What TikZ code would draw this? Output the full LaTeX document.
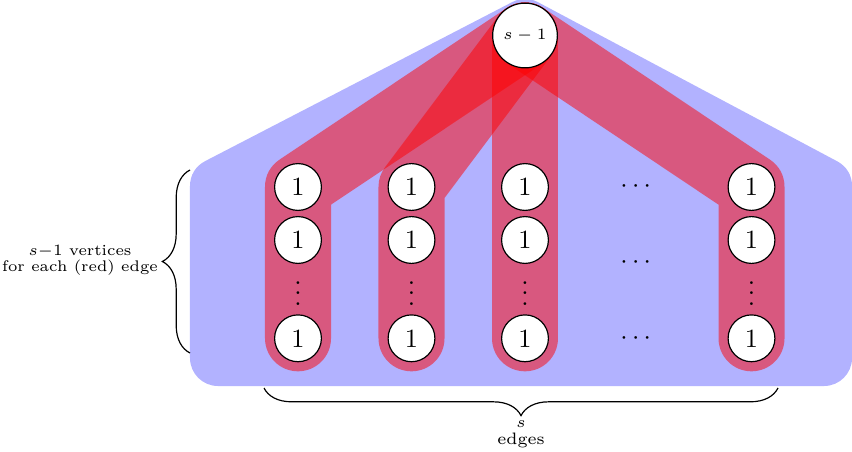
\documentclass[tikz,border=0pt]{standalone}
\usetikzlibrary{decorations.pathreplacing}
\pgfdeclarelayer{hulllayer}
\pgfdeclarelayer{edgelayer}
\pgfsetlayers{hulllayer,edgelayer,main}
\begin{document}
\begin{tikzpicture}[x=0.3802pt,y=-0.3802pt,
  vtx/.style={circle,draw,fill=white,line width=0.45pt,inner sep=0pt,minimum size=17.8pt,font=\normalsize},
  topv/.style={circle,draw,fill=white,line width=0.45pt,inner sep=0pt,minimum size=24.6pt,font=\fontsize{6.3pt}{6.1pt}\selectfont},
  vdt/.style={inner sep=0.3pt},
  hedge/.style={draw=red,draw opacity=0.5,line width=25.1pt,line cap=round,line join=round},
  hullfill/.style={fill=blue!30,draw=blue!30,line width=21.3pt,line join=round},
  brc/.style={draw,line width=0.45pt,decorate,decoration={brace,amplitude=10.5pt}},
  lbl/.style={font=\fontsize{6.3pt}{6.1pt}\selectfont,align=center,inner sep=1pt}]
\useasboundingbox (0,0) rectangle (852,451);
% vertices
\node[topv] (t) at (525,35.5) {$s - 1$};
\foreach \n/\x in {A/298,B/411.5,C/525,D/751.5}{
  \node[vtx] (\n1) at (\x,187) {1};
  \node[vtx] (\n2) at (\x,240) {1};
  \node[vdt] (\n v) at (\x,293.2) {\raisebox{-4.53pt}[4.53pt][4.53pt]{$\vdots$}};
  \node[vtx] (\n3) at (\x,338.3) {1};
}
\node (d1) at (635.7,187) {$\cdots$};
\node (d2) at (635.7,262.3) {$\cdots$};
\node (d3) at (635.7,338.3) {$\cdots$};
% hyperedges
\begin{pgfonlayer}{edgelayer}
\foreach \n in {A,B,C,D}
  \draw[hedge] (\n3.center) -- (\n1.center) -- (t.center);
\end{pgfonlayer}
% hull
\coordinate (h1) at (218,358);
\coordinate (h2) at (824,358);
\coordinate (h3) at (824,186);
\coordinate (h4) at (525,27);
\coordinate (h5) at (218,186);
\begin{pgfonlayer}{hulllayer}
\path[hullfill] (h1) -- (h2) -- (h3) -- (h4) -- (h5) -- cycle;
\end{pgfonlayer}
% braces
\coordinate (lb1) at (190,353);
\coordinate (lb2) at (190,170);
\draw[brc] (lb1) -- (lb2);
\node[lbl,anchor=east,font=\fontsize{5.85pt}{6.1pt}\selectfont] (ll) at (161,260) {$s{-}1$ vertices\\for each (red) edge};
\coordinate (bb1) at (778,388);
\coordinate (bb2) at (264,388);
\draw[brc] (bb1) -- (bb2);
\node[lbl,anchor=north] (bl) at (521,418) {$s$\\edges};
\end{tikzpicture}
\end{document}
